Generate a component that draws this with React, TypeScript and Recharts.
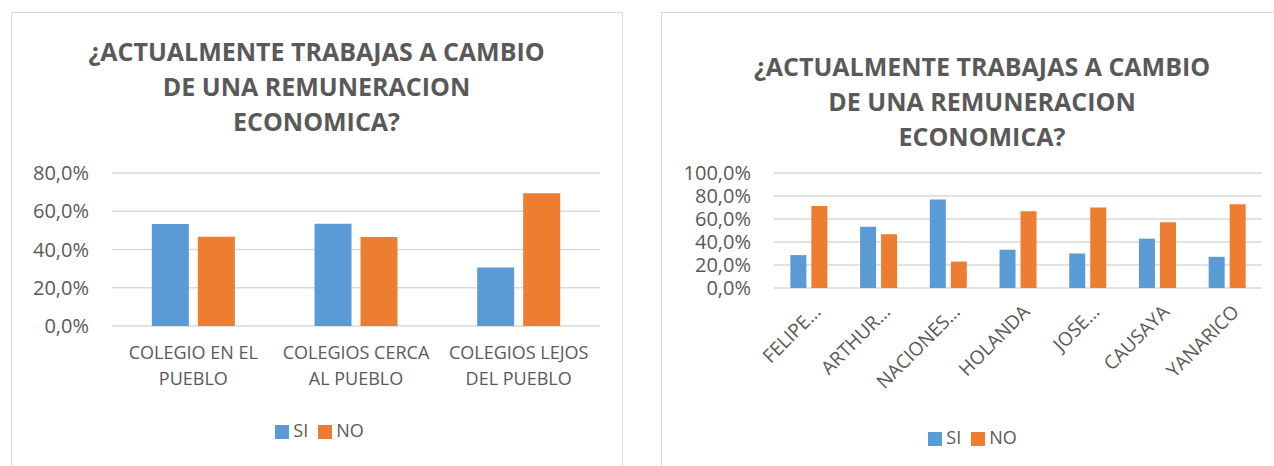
import React from "react";
import {
  BarChart,
  Bar,
  XAxis,
  YAxis,
  CartesianGrid,
  Legend,
} from "recharts";

// data
const seriesNames = ["SI", "NO"];

const leftCategories = [
  "COLEGIO EN EL PUEBLO",
  "COLEGIOS CERCA AL PUEBLO",
  "COLEGIOS LEJOS DEL PUEBLO",
];
const leftTickLines = [
  ["COLEGIO EN EL", "PUEBLO"],
  ["COLEGIOS CERCA", "AL PUEBLO"],
  ["COLEGIOS LEJOS", "DEL PUEBLO"],
];
const leftSi = [53.3, 53.5, 30.6];
const leftNo = [46.7, 46.5, 69.4];
const leftTicks = [0, 20, 40, 60, 80];

const rightCategories = [
  "FELIPE…",
  "ARTHUR…",
  "NACIONES…",
  "HOLANDA",
  "JOSE…",
  "CAUSAYA",
  "YANARICO",
];
const rightSi = [28.6, 53.3, 77.0, 33.3, 30.0, 42.9, 27.1];
const rightNo = [71.4, 46.7, 23.0, 66.7, 70.0, 57.1, 72.9];
const rightTicks = [0, 20, 40, 60, 80, 100];

const titleLines = [
  "¿ACTUALMENTE TRABAJAS A CAMBIO",
  "DE UNA REMUNERACION",
  "ECONOMICA?",
];

const BLUE = "#5b9bd5";
const ORANGE = "#ed7d31";
const TEXT = "#595959";
const GRID = "#d9d9d9";

const leftData = leftCategories.map((name, i) => ({
  name,
  SI: leftSi[i],
  NO: leftNo[i],
}));
const rightData = rightCategories.map((name, i) => ({
  name,
  SI: rightSi[i],
  NO: rightNo[i],
}));

const pct = (v: number) => v.toFixed(1).replace(".", ",") + "%";

const LeftTick = ({ x, y, payload }: any) => {
  const idx = leftCategories.indexOf(payload.value);
  const lines = leftTickLines[idx] || [payload.value];
  return (
    <text x={x} y={y + 33} textAnchor="middle" fill={TEXT} fontSize={18}>
      {lines.map((l, i) => (
        <tspan key={i} x={x} dy={i === 0 ? 0 : 26}>
          {l}
        </tspan>
      ))}
    </text>
  );
};

const RightTick = ({ x, y, payload }: any) => (
  <g transform={`translate(${x + 13},${y + 25})`}>
    <text textAnchor="end" transform="rotate(-45)" fill={TEXT} fontSize={19}>
      {payload.value}
    </text>
  </g>
);

const legendText = (v: string) => <span style={{ color: TEXT }}>{v}</span>;
const legendOrder = (item: any) => seriesNames.indexOf(item.value);

const Title = ({ left, top, width }: { left: number; top: number; width: number }) => (
  <div
    style={{
      position: "absolute",
      left,
      top,
      width,
      textAlign: "center",
      fontSize: 25,
      fontWeight: 700,
      lineHeight: "35px",
      color: TEXT,
    }}
  >
    {titleLines.map((l, i) => (
      <div key={i}>{l}</div>
    ))}
  </div>
);

export default function App() {
  return (
    <div
      style={{
        position: "fixed",
        left: 0,
        top: 0,
        width: 1274,
        height: 466,
        overflow: "hidden",
        background: "#fff",
        fontFamily: "'Open Sans', sans-serif",
      }}
    >
      <div
        style={{
          position: "absolute",
          left: 11,
          top: 12,
          width: 612,
          height: 470,
          boxSizing: "border-box",
          border: `1px solid ${GRID}`,
        }}
      />
      <div
        style={{
          position: "absolute",
          left: 661,
          top: 12,
          width: 700,
          height: 470,
          boxSizing: "border-box",
          border: `1px solid ${GRID}`,
        }}
      />

      <Title left={11} top={34} width={611} />
      <Title left={661} top={49} width={642} />

      <div style={{ position: "absolute", left: 11, top: 12 }}>
        <BarChart
          width={611}
          height={454}
          data={leftData}
          margin={{ top: 161, right: 22, left: 0, bottom: 80 }}
          barGap={9}
          barCategoryGap="24.5%"
        >
          <CartesianGrid vertical={false} stroke={GRID} strokeWidth={1.5} />
          <XAxis
            dataKey="name"
            axisLine={false}
            tickLine={false}
            tickSize={0}
            tickMargin={0}
            height={60}
            interval={0}
            tick={<LeftTick />}
          />
          <YAxis
            width={101}
            domain={[0, 80]}
            ticks={leftTicks}
            interval={0}
            axisLine={false}
            tickLine={false}
            tickSize={0}
            tickMargin={23}
            tickFormatter={pct}
            tick={{ fill: TEXT, fontSize: 20 }}
          />
          <Legend
            layout="horizontal"
            verticalAlign="middle"
            align="center"
            iconType="square"
            iconSize={14}
            formatter={legendText}
            itemSorter={legendOrder}
            wrapperStyle={{ top: 406, left: 0, width: 627, fontSize: 18 }}
          />
          <Bar dataKey="SI" fill={BLUE} isAnimationActive={false} />
          <Bar dataKey="NO" fill={ORANGE} isAnimationActive={false} />
        </BarChart>
      </div>

      <div style={{ position: "absolute", left: 661, top: 12 }}>
        <BarChart
          width={632}
          height={454}
          data={rightData}
          margin={{ top: 161, right: 31, left: 0, bottom: 78 }}
          barGap={5}
          barCategoryGap="23.5%"
        >
          <CartesianGrid vertical={false} stroke={GRID} strokeWidth={1.5} />
          <XAxis
            dataKey="name"
            axisLine={false}
            tickLine={false}
            tickSize={0}
            tickMargin={0}
            height={100}
            interval={0}
            tick={<RightTick />}
          />
          <YAxis
            width={113}
            domain={[0, 100]}
            ticks={rightTicks}
            interval={0}
            axisLine={false}
            tickLine={false}
            tickSize={0}
            tickMargin={23}
            tickFormatter={pct}
            tick={{ fill: TEXT, fontSize: 20 }}
          />
          <Legend
            layout="horizontal"
            verticalAlign="middle"
            align="center"
            iconType="square"
            iconSize={14}
            formatter={legendText}
            itemSorter={legendOrder}
            wrapperStyle={{ top: 413, left: 0, width: 633, fontSize: 18 }}
          />
          <Bar dataKey="SI" fill={BLUE} isAnimationActive={false} />
          <Bar dataKey="NO" fill={ORANGE} isAnimationActive={false} />
        </BarChart>
      </div>
    </div>
  );
}
